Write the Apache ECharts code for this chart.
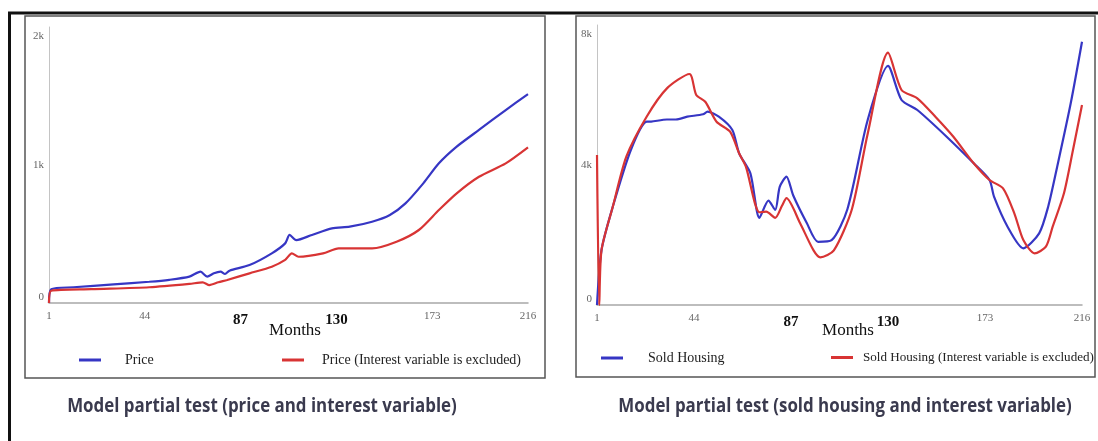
<!DOCTYPE html>
<html><head><meta charset="utf-8">
<script src="https://cdn.jsdelivr.net/npm/echarts@6/dist/echarts.min.js"></script>
<style>html,body{margin:0;padding:0;background:#fff}#c{width:1098px;height:441px}</style>
</head><body><div id="c"></div>
<script>
// ---- data ----
const monthTicks = [1, 44, 87, 130, 173, 216];
const boldTicks = [87, 130];
const priceTicks = [0, 1000, 2000];
const priceTickLabels = ['0', '1k', '2k'];
const soldTicks = [0, 4000, 8000];
const soldTickLabels = ['0', '4k', '8k'];

const priceMonths = [1,2,12,30,46,55,64,69,72,75,78,80,82,91,101,107,109,112,119,128,136,146,154,161,169,176,184,194,206,216];
const priceValues = [0,100,114,135,154,168,191,227,191,215,227,210,234,275,360,432,493,456,493,541,553,589,638,722,867,1012,1133,1254,1398,1514];

const priceExMonths = [1,2,20,46,64,70,73,77,81,91,101,107,110,113,124,131,146,157,167,176,184,194,206,216];
const priceExValues = [0,89,100,114,138,150,130,150,167,215,263,312,360,335,360,396,396,444,529,674,795,915,1012,1128];

const soldMonths = [1,3,8,16,23,25,32,36,41,48,50,55,61,64,69,73,77,80,82,85,88,94,99,105,112,121,130,136,143,156,168,175,177,183,190,197,201,205,211,216];
const soldValues = [0,1571,2808,4428,5237,5240,5300,5300,5380,5450,5523,5380,5000,4334,3763,2491,2983,2717,3374,3668,3128,2343,1806,1854,2737,5286,6830,5857,5571,4808,4048,3571,3094,2237,1620,2048,2808,3951,5763,7523];

const soldExMonths = [1,2,3,8,14,23,32,42,45,49,54,60,64,67,73,76,80,83,85,91,97,100,106,114,121,130,136,143,151,159,168,175,181,186,190,195,200,203,208,212,216];
const soldExValues = [4286,0,1571,2808,4237,5380,6190,6600,6000,5808,5237,4951,4334,3951,2650,2666,2491,2834,3051,2343,1560,1363,1560,2737,4894,7208,6143,5906,5380,4808,4048,3571,3334,2620,1857,1477,1666,2237,3191,4430,5714];

const seriesNames = ['Price', 'Price (Interest variable is excluded)', 'Sold Housing', 'Sold Housing (Interest variable is excluded)'];
const titles = ['Model partial test (price and interest variable)', 'Model partial test (sold housing and interest variable)'];
const xName = 'Months';

// ---- build ----
const zip = (a, b) => a.map((m, i) => [m, b[i]]);
const BLUE = '#3636c4', RED = '#d83434';
const SERIF = "'Liberation Serif', 'DejaVu Serif', serif";

function xAxis(gi) {
  return {
    type: 'value', gridIndex: gi, min: 1, max: 216,
    axisLine: { show: true, lineStyle: { color: '#a8a8a8', width: 1.5 } },
    axisTick: { show: false },
    splitLine: { show: false },
    axisLabel: {
      customValues: monthTicks, margin: 8, fontFamily: SERIF, fontSize: 11, color: '#666',
      formatter: v => boldTicks.includes(v) ? '{b|' + v + '}' : String(v),
      rich: { b: { fontFamily: SERIF, fontSize: 15, fontWeight: 'bold', color: '#111', padding: [2, 0, 0, 0] } }
    }
  };
}
function yAxis(gi, max, ticks, labels) {
  return {
    type: 'value', gridIndex: gi, min: 0, max: max,
    axisLine: { show: true, lineStyle: { color: '#c4c4c4', width: 1 } },
    axisTick: { show: false },
    splitLine: { show: false },
    axisLabel: {
      customValues: ticks, margin: 5, fontFamily: SERIF, fontSize: 11, color: '#666',
      formatter: v => v === max ? '{t|' + labels[ticks.indexOf(v)] + '}' : labels[ticks.indexOf(v)],
      rich: { t: { fontFamily: SERIF, fontSize: 11, color: '#666', padding: [4, 0, 0, 0] } },
      verticalAlignMinLabel: 'bottom', verticalAlignMaxLabel: 'top'
    }
  };
}
function line(name, data, color, gi) {
  return {
    type: 'line', name: name, data: data, xAxisIndex: gi, yAxisIndex: gi,
    showSymbol: false, smooth: 0.25,
    lineStyle: { color: color, width: 2.2 }, itemStyle: { color: color }
  };
}
function legend(name, left, top, fs, gap) {
  return {
    data: [name], left: left, top: top, icon: 'rect', itemWidth: 22, itemHeight: 3,
    padding: 0, selectedMode: false,
    textStyle: { fontFamily: SERIF, fontSize: fs, color: '#222', padding: [0, 0, 0, gap] }
  };
}

const chart = echarts.init(document.getElementById('c'), null, { renderer: 'canvas' });
chart.setOption({
  backgroundColor: '#fff',
  animation: false,
  grid: [
    { left: 49, right: 570, top: 27, bottom: 138, containLabel: false, outerBoundsMode: 'none' },
    { left: 597, right: 16, top: 25, bottom: 136, containLabel: false, outerBoundsMode: 'none' }
  ],
  xAxis: [xAxis(0), xAxis(1)],
  yAxis: [yAxis(0, 2000, priceTicks, priceTickLabels), yAxis(1, 8000, soldTicks, soldTickLabels)],
  legend: [
    legend(seriesNames[0], 79, 353, 14, 19),
    legend(seriesNames[1], 282, 353, 14, 13),
    legend(seriesNames[2], 601, 351, 14, 20),
    legend(seriesNames[3], 831, 351, 13.1, 5)
  ],
  series: [
    line(seriesNames[0], zip(priceMonths, priceValues), BLUE, 0),
    line(seriesNames[1], zip(priceExMonths, priceExValues), RED, 0),
    line(seriesNames[2], zip(soldMonths, soldValues), BLUE, 1),
    line(seriesNames[3], zip(soldExMonths, soldExValues), RED, 1)
  ],
  graphic: [
    { type: 'rect', shape: { x: 25, y: 16, width: 520, height: 362 }, style: { fill: 'none', stroke: '#555', lineWidth: 1.5 } },
    { type: 'rect', shape: { x: 576, y: 16, width: 519, height: 361 }, style: { fill: 'none', stroke: '#555', lineWidth: 1.5 } },
    { type: 'line', shape: { x1: 8, y1: 13, x2: 1098, y2: 13 }, style: { stroke: '#111', lineWidth: 3 } },
    { type: 'line', shape: { x1: 9.5, y1: 12, x2: 9.5, y2: 441 }, style: { stroke: '#111', lineWidth: 3 } },
    { type: 'text', x: 295, y: 331, style: { text: xName, align: 'center', verticalAlign: 'middle', textAlign: 'center', textVerticalAlign: 'middle', font: "17px " + SERIF, fill: '#111' } },
    { type: 'text', x: 848, y: 331, style: { text: xName, align: 'center', verticalAlign: 'middle', textAlign: 'center', textVerticalAlign: 'middle', font: "17px " + SERIF, fill: '#111' } },
    { type: 'text', x: 262, y: 407, scaleX: 0.89, style: { text: titles[0], align: 'center', verticalAlign: 'middle', textAlign: 'center', textVerticalAlign: 'middle', font: "bold 19px 'Open Sans', sans-serif", fill: '#3a3a4e' } },
    { type: 'text', x: 845, y: 407, scaleX: 0.89, style: { text: titles[1], align: 'center', verticalAlign: 'middle', textAlign: 'center', textVerticalAlign: 'middle', font: "bold 19px 'Open Sans', sans-serif", fill: '#3a3a4e' } }
  ]
});
</script>
</body></html>
